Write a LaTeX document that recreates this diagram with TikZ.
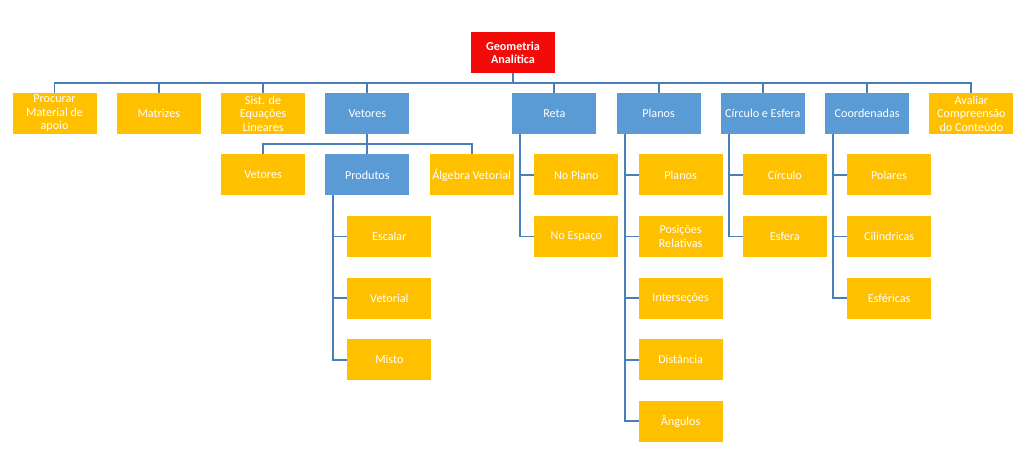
\documentclass[tikz,border=0pt]{standalone}
\usepackage{fontspec}
\setmainfont{Carlito}
\usetikzlibrary{positioning}

\definecolor{laranja}{HTML}{FFC000}
\definecolor{azul}{HTML}{5B9BD5}
\definecolor{vermelho}{HTML}{F50A0A}
\definecolor{linha}{HTML}{4A7EBB}

\begin{document}
\begin{tikzpicture}[
node distance=15.4pt and 15.2pt,
box/.style={
minimum width=63pt,
minimum height=30.75pt,
inner sep=0pt,
outer sep=0pt,
align=center,
text=white,
font=\fontsize{9.1}{10.1}\selectfont
},
topico/.style={
box,
fill=azul
},
folha/.style={
box,
fill=laranja
},
raiz/.style={
box,
fill=vermelho,
font=\fontsize{9.1}{10.1}\selectfont\bfseries
},
link/.style={
draw=linha,
line width=1.4pt
}
]

\useasboundingbox (0,0) rectangle (768pt,-349.5pt);


% Raiz
\node[raiz] (geo) at (384.75pt,-39.4pt)
{
Geometria\\
Analítica
};


% Primeiro nivel
\node[folha] (material) at (40.9pt,-85.1pt)
{
Procurar\\
Material de\\
apoio
};

\node[folha,right=of material] (matrizes) {Matrizes};

\node[folha,right=of matrizes] (sistemas)
{
Sist. de\\
Equações\\
Lineares
};

\node[topico,right=of sistemas] (vetores) {Vetores};

\node[topico,right=77.25pt of vetores] (reta) {Reta};

\node[topico,right=of reta] (planos) {Planos};

\node[topico,right=of planos] (circesf) {Círculo e Esfera};

\node[topico,right=of circesf] (coord) {Coordenadas};

\node[folha,right=of coord] (avaliar)
{
Avaliar\\
Compreensão\\
do Conteúdo
};


% Vetores
\node[topico,below=of vetores] (produtos) {Produtos};
\node[folha,left=of produtos] (vetsub) {Vetores};
\node[folha,right=of produtos] (algebra) {Álgebra Vetorial};

\node[folha,below=of produtos,xshift=16.5pt] (escalar) {Escalar};
\node[folha,below=of escalar] (vetorial) {Vetorial};
\node[folha,below=of vetorial] (misto) {Misto};


% Reta
\node[folha,below=of reta,xshift=16.5pt] (noplano) {No Plano};
\node[folha,below=of noplano] (noespaco) {No Espaço};


% Planos
\node[folha,below=of planos,xshift=16.5pt] (plsub) {Planos};
\node[folha,below=of plsub] (posicoes)
{
Posições\\
Relativas
};
\node[folha,below=of posicoes] (intersec) {Interseções};
\node[folha,below=of intersec] (distancia) {Distância};
\node[folha,below=of distancia] (angulos) {Ângulos};


% Circulo e Esfera
\node[folha,below=of circesf,xshift=16.5pt] (circulo) {Círculo};
\node[folha,below=of circulo] (esfera) {Esfera};


% Coordenadas
\node[folha,below=of coord,xshift=16.5pt] (polares) {Polares};
\node[folha,below=of polares] (cilind) {Cilíndricas};
\node[folha,below=of cilind] (esfericas) {Esféricas};



% ligacoes do topo
\draw[link] (geo.south) -- ++(0,-7.5pt) -| (material.north);
\draw[link] (geo.south) -- ++(0,-7.5pt) -| (matrizes.north);
\draw[link] (geo.south) -- ++(0,-7.5pt) -| (sistemas.north);
\draw[link] (geo.south) -- ++(0,-7.5pt) -| (vetores.north);
\draw[link] (geo.south) -- ++(0,-7.5pt) -| (reta.north);
\draw[link] (geo.south) -- ++(0,-7.5pt) -| (planos.north);
\draw[link] (geo.south) -- ++(0,-7.5pt) -| (circesf.north);
\draw[link] (geo.south) -- ++(0,-7.5pt) -| (coord.north);
\draw[link] (geo.south) -- ++(0,-7.5pt) -| (avaliar.north);

\draw[link] (vetores.south) -- ++(0,-7.5pt) -| (vetsub.north);
\draw[link] (vetores.south) -- ++(0,-7.5pt) -| (produtos.north);
\draw[link] (vetores.south) -- ++(0,-7.5pt) -| (algebra.north);


% ligacoes laterais
\draw[link] ([xshift=6pt]produtos.south west) |- (escalar.west);
\draw[link] ([xshift=6pt]produtos.south west) |- (vetorial.west);
\draw[link] ([xshift=6pt]produtos.south west) |- (misto.west);

\draw[link] ([xshift=6pt]reta.south west) |- (noplano.west);
\draw[link] ([xshift=6pt]reta.south west) |- (noespaco.west);

\draw[link] ([xshift=6pt]planos.south west) |- (plsub.west);
\draw[link] ([xshift=6pt]planos.south west) |- (posicoes.west);
\draw[link] ([xshift=6pt]planos.south west) |- (intersec.west);
\draw[link] ([xshift=6pt]planos.south west) |- (distancia.west);
\draw[link] ([xshift=6pt]planos.south west) |- (angulos.west);

\draw[link] ([xshift=6pt]circesf.south west) |- (circulo.west);
\draw[link] ([xshift=6pt]circesf.south west) |- (esfera.west);

\draw[link] ([xshift=6pt]coord.south west) |- (polares.west);
\draw[link] ([xshift=6pt]coord.south west) |- (cilind.west);
\draw[link] ([xshift=6pt]coord.south west) |- (esfericas.west);


\end{tikzpicture}
\end{document}
